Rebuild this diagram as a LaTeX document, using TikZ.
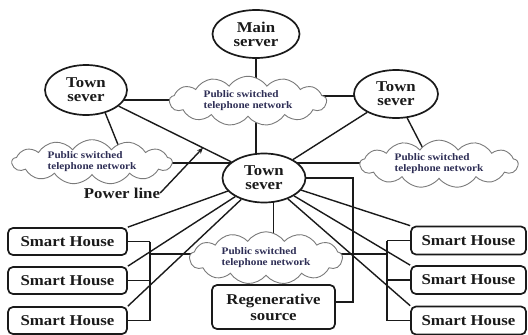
\documentclass[tikz,border=0pt]{standalone}
\usepackage{fontspec}
\setmainfont{Liberation Serif}[FakeStretch=1.12]
\usetikzlibrary{shapes.geometric,shapes.symbols,arrows.meta,backgrounds,calc}
\definecolor{ink}{HTML}{1A1A1A}
\definecolor{cloudtext}{HTML}{2E2E55}
\definecolor{cloudline}{HTML}{7A7A7A}
\tikzset{
  server/.style={ellipse, draw=ink, line width=1.7pt, fill=white, inner sep=0pt,
    font=\bfseries\fontsize{15}{14}\selectfont, align=center, text=ink},
  housebox/.style={rectangle, rounded corners=5pt, draw=ink, line width=1.7pt, fill=white,
    font=\bfseries\fontsize{15}{14}\selectfont, text=ink, inner sep=0pt, align=center},
  pstn/.style={cloud, cloud puffs=13, cloud puff arc=110, draw=cloudline, line width=0.9pt,
    fill=white, font=\bfseries\fontsize{10}{11}\selectfont, text=cloudtext, align=left, inner sep=0pt},
  link/.style={draw=ink, line width=1.4pt},
  lbl/.style={font=\bfseries\fontsize{15}{14}\selectfont, text=ink, inner sep=0pt},
}
\begin{document}
\begin{tikzpicture}[x=1pt,y=-1pt]
\useasboundingbox (0,0) rectangle (528,335);
% servers
\node[server, minimum width=87pt, minimum height=48pt] (main) at (256,34) {Main\\server};
\node[server, minimum width=82pt, minimum height=50pt] (ltown) at (86,90) {Town\\sever};
\node[server, minimum width=84pt, minimum height=48pt] (rtown) at (396,94) {Town\\sever};
\node[server, minimum width=83pt, minimum height=49pt] (town) at (264,178) {Town\\sever};
% clouds
\node[pstn, minimum width=157pt, minimum height=43pt, aspect=3.6] (cloudT) at (248,101) {Public switched\\telephone network};
\node[pstn, minimum width=160pt, minimum height=38pt, aspect=4.2] (lcloud) at (92,162) {Public switched\\telephone network};
\node[pstn, minimum width=158pt, minimum height=42pt, aspect=3.8] (rcloud) at (439,164) {Public switched\\telephone network};
\node[pstn, minimum width=153pt, minimum height=47pt, aspect=3.3] (bcloud) at (266,258) {Public switched\\telephone network};
% boxes
\node[housebox, minimum width=119pt, minimum height=27pt] (lh1) at (67.5,241.5) {Smart House};
\node[housebox, minimum width=119pt, minimum height=27pt] (lh2) at (67.5,280.5) {Smart House};
\node[housebox, minimum width=119pt, minimum height=27pt] (lh3) at (67.5,320.5) {Smart House};
\node[housebox, minimum width=115pt, minimum height=28pt] (rh1) at (468.5,240.5) {Smart House};
\node[housebox, minimum width=115pt, minimum height=28pt] (rh2) at (468.5,280) {Smart House};
\node[housebox, minimum width=115pt, minimum height=28pt] (rh3) at (468.5,320.5) {Smart House};
\node[housebox, minimum width=123pt, minimum height=44pt, font=\bfseries\fontsize{15}{16}\selectfont] (regen) at (273.5,307) {Regenerative\\source};
% label
\node[lbl] (pl) at (122,193) {Power line};
% helper coordinates
\coordinate (lbus) at (150,0);
\coordinate (rbus) at (387,0);
\coordinate (vx) at (353,0);
% connectors
\begin{scope}[on background layer]
\draw[link] (main) -- (main |- town);
\draw[link] (ltown |- 0,100) -- (cloudT |- 0,100);
\draw[link] (cloudT |- 0,96) -- (rtown |- 0,96);
\draw[link] (ltown) -- (town);
\draw[link] (rtown) -- (town);
\draw[link] (ltown.-50) -- ([xshift=33pt]lcloud.center);
\draw[link] (rtown.-65) -- ([xshift=-8pt]rcloud.center);
\draw[link] (lcloud |- 0,163) -- (rcloud |- 0,163);
\draw[link] (town -| regen) -- (bcloud -| regen);
\draw[link] (town) -- (town -| vx) -- (vx |- 0,302) -- (regen |- 0,302);
\draw[link] (lbus |- lh1) -- (lbus |- lh3);
\draw[link] (rbus |- rh1) -- (rbus |- rh3);
\foreach \n in {lh1,lh2,lh3} {
  \draw[link] (\n) -- (\n -| lbus);
  \draw[link] (town) -- (\n.north east);
}
\foreach \n in {rh1,rh2,rh3} {
  \draw[link] (\n) -- (\n -| rbus);
  \draw[link] (town) -- (\n.north west);
}
\draw[link] (lbus |- 0,254) -- (rbus |- 0,254);
\end{scope}
\draw[link, -{Stealth[length=6pt,width=5pt]}] (pl.east) -- ($(ltown)!0.657!(town)$);
\end{tikzpicture}
\end{document}
